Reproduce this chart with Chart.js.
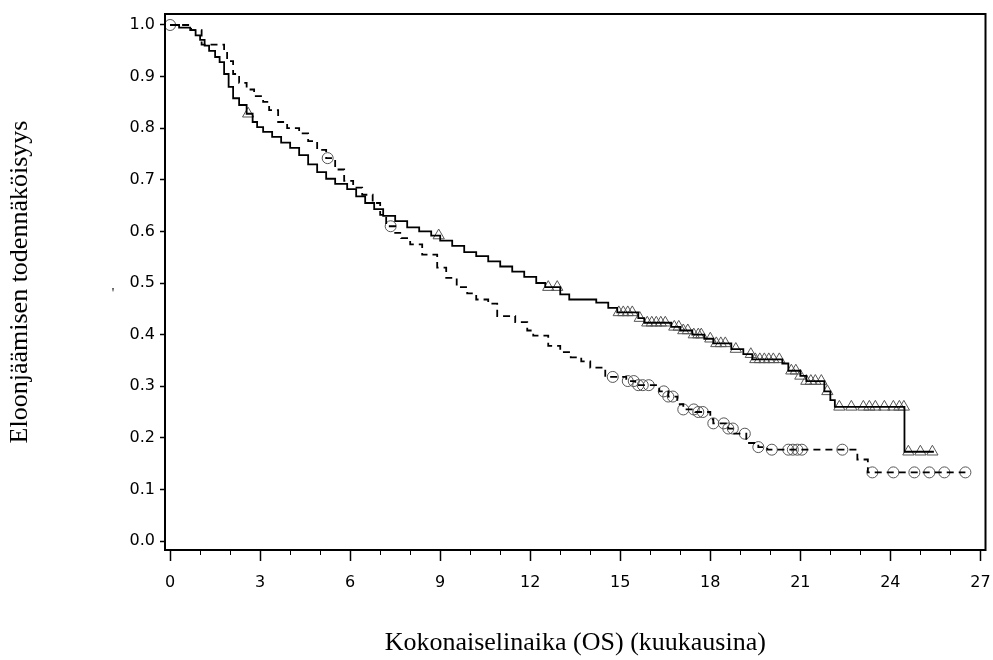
<!DOCTYPE html>
<html>
<head>
<meta charset="utf-8">
<script src="https://cdn.jsdelivr.net/npm/chart.js@4.4.1/dist/chart.umd.min.js"></script>
<style>
  html, body { margin: 0; padding: 0; background: #fff; }
</style>
</head>
<body>
<canvas id="kmChart" width="993" height="660"></canvas>
<script>
// solid curve (censored = triangles)
const solidTimes = [0, 0.3, 0.67, 0.85, 1.0, 1.15, 1.3, 1.5, 1.65, 1.8, 1.95, 2.1, 2.3, 2.55, 2.75, 2.9,
  3.1, 3.4, 3.7, 4.0, 4.3, 4.6, 4.9, 5.2, 5.5, 5.9, 6.2, 6.5, 6.8, 7.1, 7.5, 7.9, 8.3, 8.7, 9.0,
  9.4, 9.8, 10.2, 10.6, 11.0, 11.4, 11.8, 12.2, 12.5, 13.0, 13.3, 14.2, 14.6, 14.9, 15.6, 15.8,
  16.7, 17.0, 17.4, 17.8, 18.1, 18.7, 19.1, 19.4, 20.4, 20.6, 21.0, 21.2, 21.8, 22.0, 22.15, 24.47, 25.45];
const solidSurv = [1.0, 0.995, 0.99, 0.98, 0.971, 0.96, 0.95, 0.938, 0.928, 0.905, 0.88, 0.858, 0.845, 0.828, 0.812, 0.802,
  0.793, 0.783, 0.772, 0.762, 0.748, 0.73, 0.715, 0.702, 0.692, 0.682, 0.668, 0.655, 0.643, 0.63, 0.62, 0.608, 0.6, 0.592, 0.582,
  0.572, 0.56, 0.552, 0.542, 0.532, 0.522, 0.512, 0.5, 0.492, 0.478, 0.468, 0.462, 0.452, 0.443, 0.432, 0.423,
  0.415, 0.408, 0.4, 0.392, 0.383, 0.372, 0.362, 0.352, 0.344, 0.33, 0.32, 0.31, 0.29, 0.273, 0.26, 0.173, 0.173];
const solidCensor = [2.6, 8.95, 12.6, 12.9, 14.95, 15.1, 15.25, 15.4, 15.65, 15.9, 16.05, 16.2, 16.35, 16.5,
  16.8, 16.95, 17.1, 17.25, 17.45, 17.6, 17.7, 18.0, 18.2, 18.35, 18.5, 18.85, 19.35, 19.5, 19.65, 19.8,
  19.95, 20.1, 20.3, 20.7, 20.85, 21.0, 21.2, 21.35, 21.5, 21.7, 21.9, 22.3, 22.7, 23.1, 23.3, 23.5,
  23.8, 24.1, 24.3, 24.45, 24.6, 25.0, 25.4];

// dashed curve (censored = circles)
const dashTimes = [0, 0.7, 1.05, 1.8, 1.9, 2.1, 2.3, 2.55, 2.8, 3.1, 3.3, 3.6, 3.9, 4.3, 4.6, 4.9, 5.2, 5.5,
  5.8, 6.1, 6.4, 6.75, 7.0, 7.2, 7.5, 7.7, 8.0, 8.4, 8.9, 9.2, 9.55, 9.9, 10.2, 10.6, 10.9, 11.5, 11.9,
  12.1, 12.6, 13.0, 13.35, 13.7, 14.0, 14.5, 15.2, 15.5, 16.3, 16.6, 16.9, 17.1, 17.5, 18.0, 18.1, 18.6,
  18.8, 19.2, 19.6, 19.9, 22.9, 23.25, 26.5];
const dashSurv = [1.0, 0.99, 0.962, 0.948, 0.93, 0.905, 0.888, 0.875, 0.862, 0.851, 0.835, 0.812, 0.8, 0.79, 0.775, 0.758, 0.742, 0.72,
  0.698, 0.685, 0.671, 0.655, 0.632, 0.61, 0.597, 0.587, 0.575, 0.555, 0.53, 0.51, 0.492, 0.48, 0.468, 0.46, 0.436, 0.424, 0.408,
  0.398, 0.378, 0.366, 0.356, 0.348, 0.336, 0.318, 0.31, 0.302, 0.29, 0.28, 0.265, 0.255, 0.25, 0.236, 0.228, 0.218,
  0.208, 0.19, 0.182, 0.177, 0.158, 0.133, 0.133];
const dashCensor = [0, 5.25, 7.35, 14.75, 15.25, 15.45, 15.6, 15.75, 15.95, 16.45, 16.6, 16.75, 17.1, 17.45,
  17.6, 17.75, 18.1, 18.45, 18.6, 18.75, 19.15, 19.6, 20.05, 20.6, 20.75, 20.9, 21.05, 22.4, 23.4, 24.1,
  24.8, 25.3, 25.8, 26.5];

const xTicks = [0, 3, 6, 9, 12, 15, 18, 21, 24, 27];
const xMinorTicks = [1, 2, 4, 5, 7, 8, 10, 11, 13, 14, 16, 17, 19, 20, 22, 23, 25, 26];
const yTicks = [0, 0.1, 0.2, 0.3, 0.4, 0.5, 0.6, 0.7, 0.8, 0.9, 1.0];

const xTitle = 'Kokonaiselinaika (OS) (kuukausina)';
const yTitle = 'Eloonjäämisen todennäköisyys';

// survival value at time t (last step at or before t)
const survAt = (times, surv, t) => {
  let s = surv[0];
  for (let i = 0; i < times.length; i++) {
    if (times[i] <= t) s = surv[i];
  }
  return s;
};
const toXY = (times, surv) => times.map((t, i) => ({x: t, y: surv[i]}));

const tickFont = {family: 'DejaVu Sans', size: 16};
const titleFont = {family: 'Liberation Serif', size: 26};

// box around the plot + minor x ticks + stray mark
const framePlugin = {
  id: 'frame',
  afterDraw(chart) {
    const {ctx, chartArea} = chart;
    const xs = chart.scales.x;
    ctx.save();
    ctx.strokeStyle = '#000';
    ctx.lineWidth = 2;
    ctx.strokeRect(chartArea.left, chartArea.top, chartArea.right - chartArea.left, chartArea.bottom - chartArea.top);
    ctx.lineWidth = 1;
    xMinorTicks.forEach(v => {
      const px = Math.round(xs.getPixelForValue(v)) + 0.5;
      ctx.beginPath();
      ctx.moveTo(px, chartArea.bottom);
      ctx.lineTo(px, chartArea.bottom + 5);
      ctx.stroke();
    });
    ctx.fillStyle = '#000';
    ctx.font = '14px "Liberation Serif"';
    ctx.textAlign = 'center';
    ctx.textBaseline = 'middle';
    ctx.fillText("'", 113, 294);
    ctx.restore();
  }
};

new Chart(document.getElementById('kmChart'), {
  type: 'scatter',
  data: {
    datasets: [
      {
        label: 'solid',
        data: toXY(solidTimes, solidSurv),
        showLine: true,
        stepped: 'before',
        borderColor: '#000',
        borderWidth: 1.8,
        pointRadius: 0,
        fill: false
      },
      {
        label: 'dashed',
        data: toXY(dashTimes, dashSurv),
        showLine: true,
        stepped: 'before',
        borderColor: '#000',
        borderWidth: 1.8,
        borderDash: [7, 5],
        pointRadius: 0,
        fill: false
      },
      {
        label: 'solid censored',
        data: solidCensor.map(t => ({x: t, y: survAt(solidTimes, solidSurv, t)})),
        showLine: false,
        pointStyle: 'triangle',
        pointRadius: 6.5,
        pointBorderColor: '#555',
        pointBackgroundColor: 'rgba(0,0,0,0)',
        pointBorderWidth: 1
      },
      {
        label: 'dashed censored',
        data: dashCensor.map(t => ({x: t, y: survAt(dashTimes, dashSurv, t)})),
        showLine: false,
        pointStyle: 'circle',
        pointRadius: 5.5,
        pointBorderColor: '#555',
        pointBackgroundColor: 'rgba(0,0,0,0)',
        pointBorderWidth: 1
      }
    ]
  },
  options: {
    responsive: false,
    animation: false,
    layout: {padding: {left: 0, top: 14, right: 7, bottom: 0}},
    plugins: {
      legend: {display: false},
      tooltip: {enabled: false}
    },
    scales: {
      x: {
        type: 'linear',
        bounds: 'data',
        min: -0.17,
        max: 27.17,
        afterBuildTicks: scale => { scale.ticks = xTicks.map(v => ({value: v})); },
        afterFit: scale => { scale.height = 110; scale.paddingLeft = 0; scale.paddingRight = 0; },
        grid: {drawOnChartArea: false, drawTicks: true, tickLength: 11, tickColor: '#000', tickWidth: 1.5},
        border: {display: true, color: '#000', width: 2},
        ticks: {font: tickFont, color: '#000', padding: 12, autoSkip: false, maxRotation: 0},
        title: {display: true, text: xTitle, font: titleFont, color: '#000', padding: {top: 0, bottom: 1}}
      },
      y: {
        type: 'linear',
        bounds: 'data',
        min: -0.0174,
        max: 1.0213,
        afterBuildTicks: scale => { scale.ticks = yTicks.map(v => ({value: v})); },
        afterFit: scale => { scale.width = 165; scale.paddingTop = 0; scale.paddingBottom = 0; },
        grid: {drawOnChartArea: false, drawTicks: true, tickLength: 5, tickColor: '#000', tickWidth: 1.5},
        border: {display: true, color: '#000', width: 2},
        ticks: {font: tickFont, color: '#000', padding: 5, callback: v => v.toFixed(1)},
        title: {display: true, text: yTitle, font: titleFont, color: '#000', padding: {top: 5, bottom: 0}}
      }
    }
  },
  plugins: [framePlugin]
});
</script>
</body>
</html>
